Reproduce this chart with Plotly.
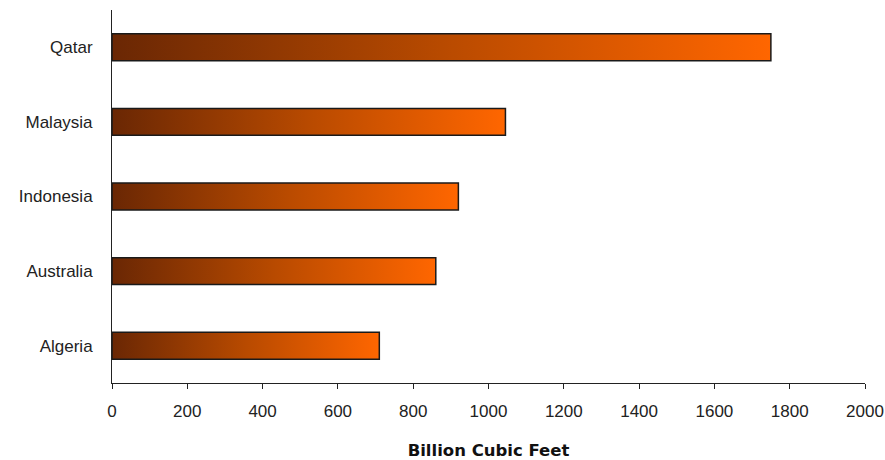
import plotly.graph_objects as go

countries = ["Algeria", "Australia", "Indonesia", "Malaysia", "Qatar"]
values = [710, 860, 920, 1045, 1750]
x_ticks = [0, 200, 400, 600, 800, 1000, 1200, 1400, 1600, 1800, 2000]

half = 0.18
fig = go.Figure()
for i, (c, v) in enumerate(zip(countries, values)):
    fig.add_trace(go.Scatter(
        x=[0, v, v, 0, 0],
        y=[i - half, i - half, i + half, i + half, i - half],
        mode="lines",
        fill="toself",
        fillgradient=dict(type="horizontal",
                          colorscale=[[0, "#6A2704"], [0.5, "#B84A00"], [1, "#FF6600"]]),
        line=dict(color="#1a1a1a", width=1.5),
        name=c,
        hoverinfo="skip",
        showlegend=False,
    ))

fig.update_layout(
    width=885, height=460,
    margin=dict(l=112, r=20, t=10, b=77, autoexpand=False),
    paper_bgcolor="white", plot_bgcolor="white",
    font=dict(family="Liberation Sans, Arial", size=17, color="#222"),
    xaxis=dict(
        range=[0, 2000], tickvals=x_ticks, ticktext=[str(t) for t in x_ticks],
        showgrid=False, zeroline=False, showline=True, linecolor="#222", linewidth=1,
        ticks="outside", ticklen=5, tickcolor="#222", ticklabelstandoff=8,
        automargin=False,
        title=dict(text="<b>Billion Cubic Feet</b>",
                   font=dict(family="DejaVu Sans", size=16.5, color="#111"), standoff=24),
    ),
    yaxis=dict(
        range=[-0.5, 4.5], tickvals=list(range(len(countries))), ticktext=countries,
        showgrid=False, zeroline=False, showline=True, linecolor="#222", linewidth=1,
        ticks="", ticklabelstandoff=15, automargin=False,
    ),
)

fig.write_html("out.html")
